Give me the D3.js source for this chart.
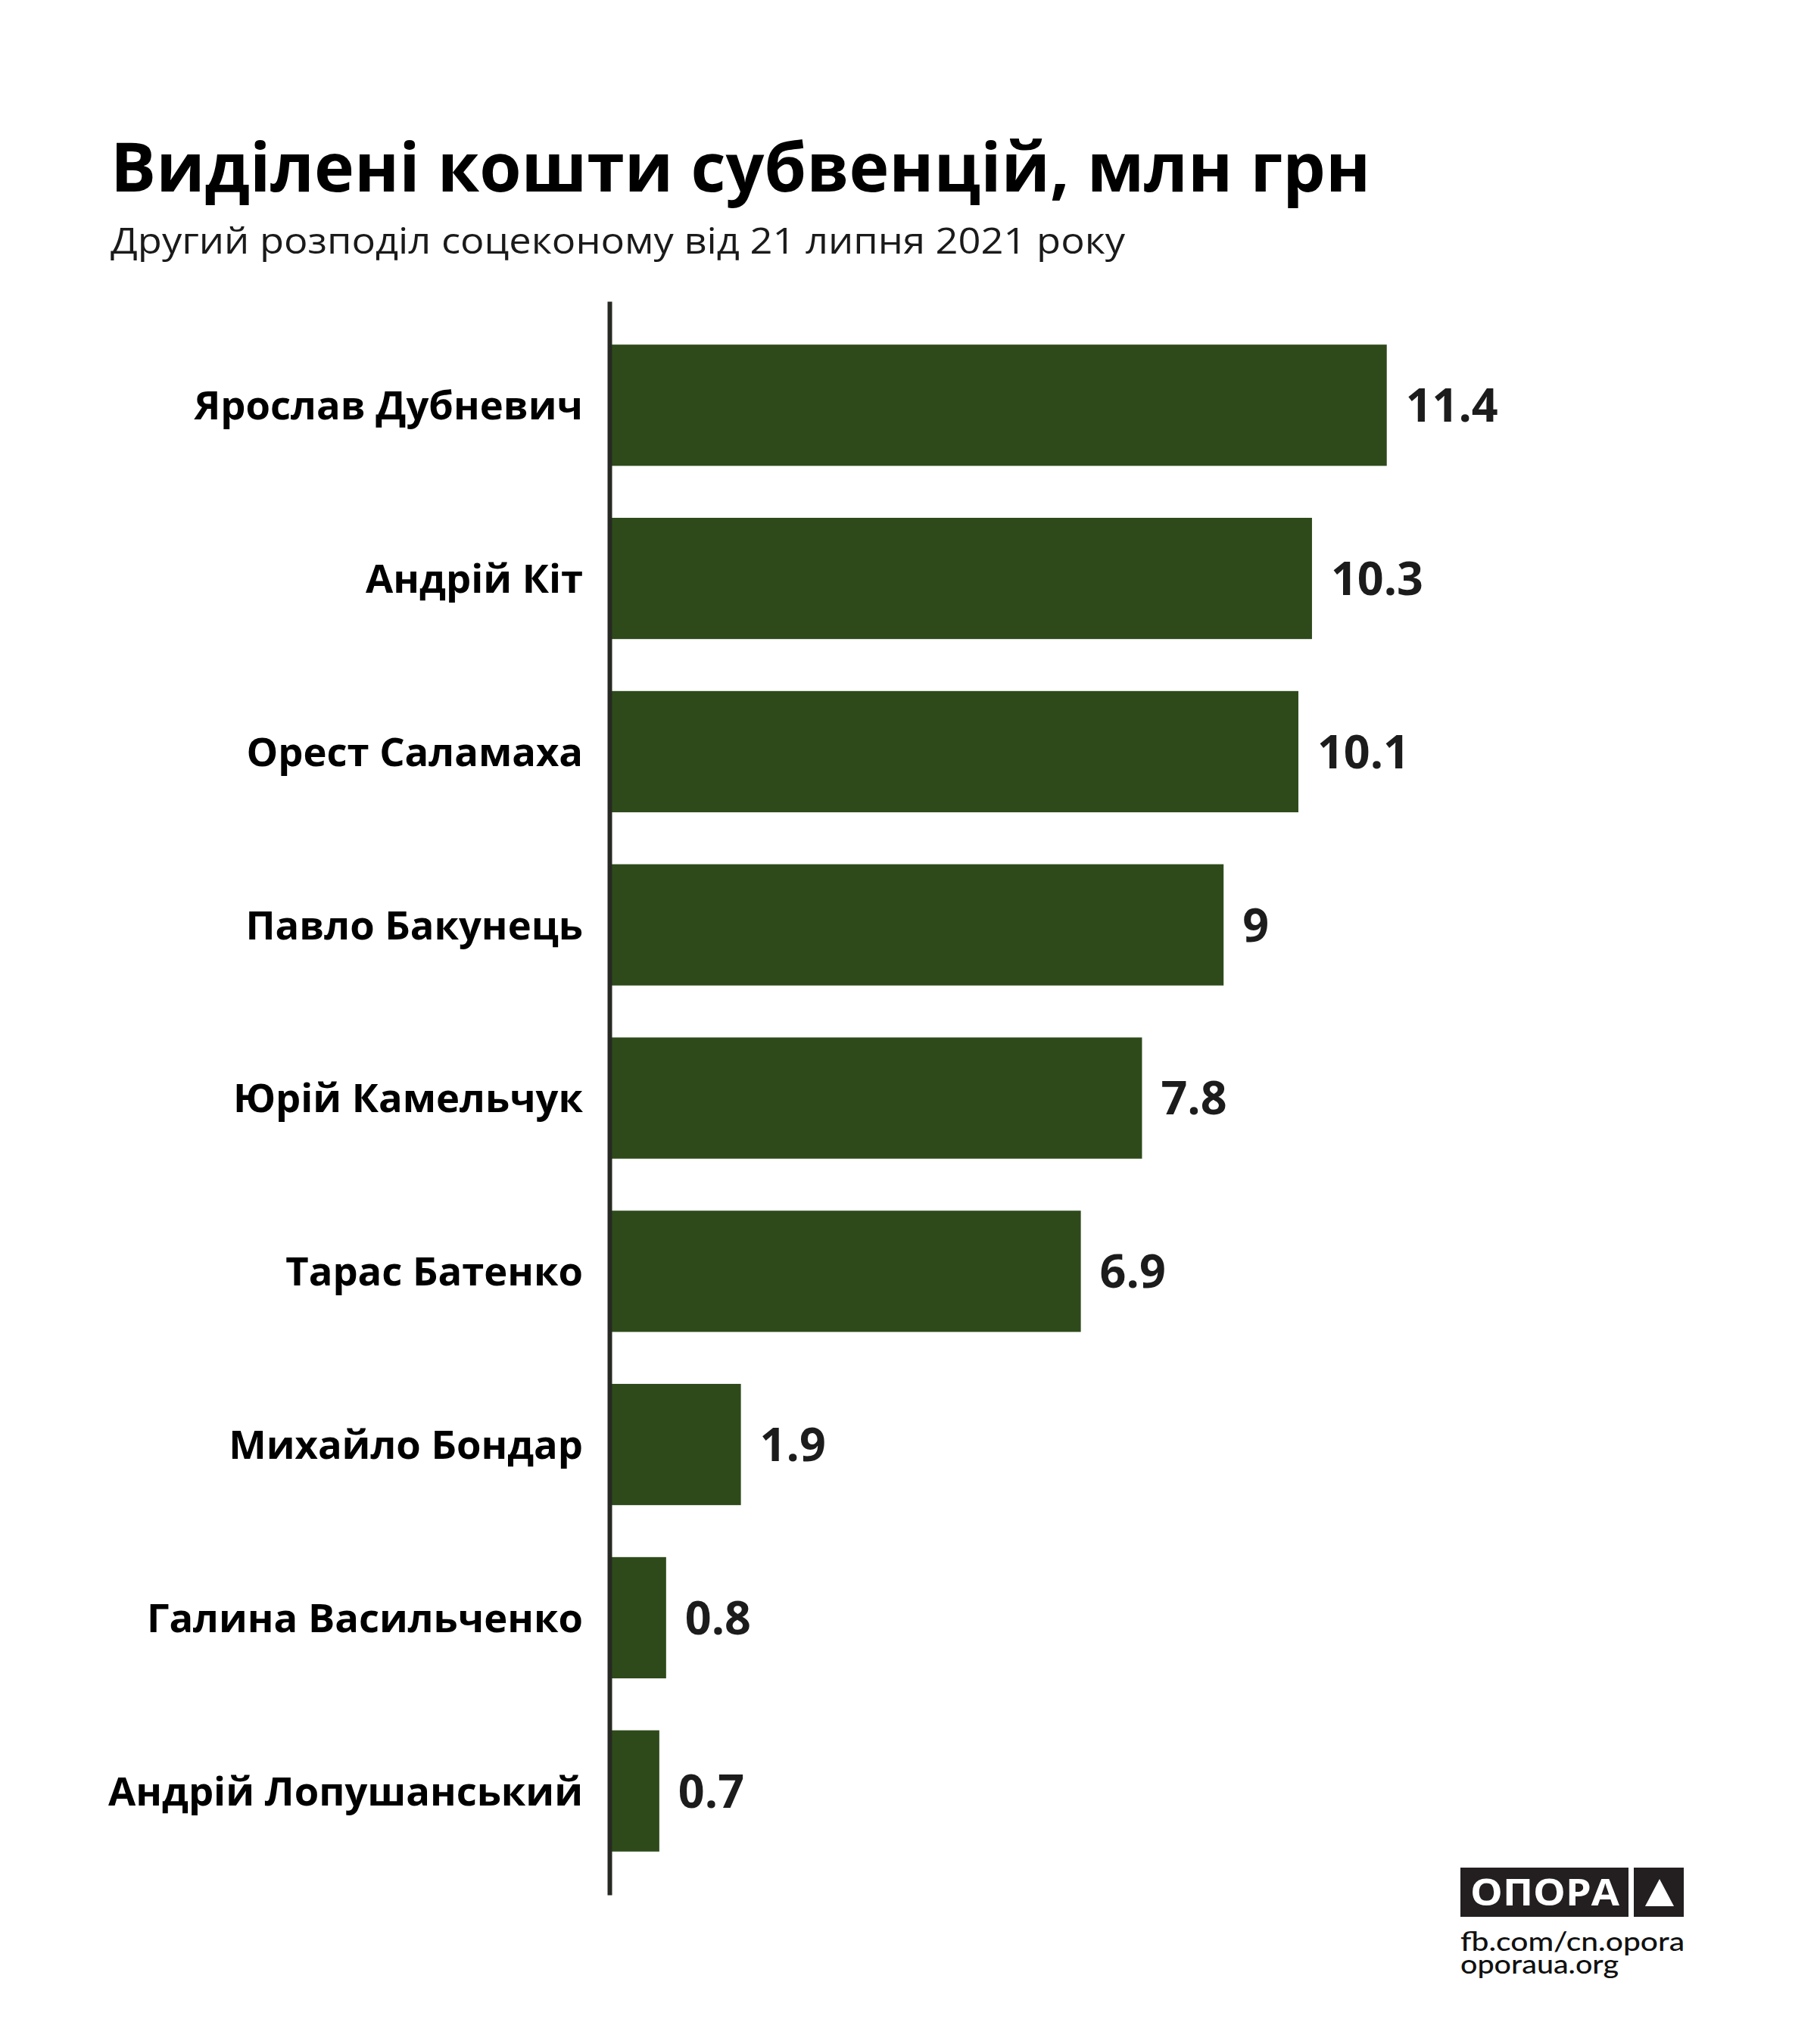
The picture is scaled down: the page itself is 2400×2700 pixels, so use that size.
<!DOCTYPE html>
<html>
<head>
<meta charset="utf-8">
<script src="https://cdn.jsdelivr.net/npm/d3@7"></script>
<style>
  body { margin: 0; background: #fff; }
  svg { display: block; }
</style>
</head>
<body>
<div id="chart"></div>
<script>
var names = ["Ярослав Дубневич", "Андрій Кіт", "Орест Саламаха", "Павло Бакунець",
    "Юрій Камельчук", "Тарас Батенко", "Михайло Бондар", "Галина Васильченко",
    "Андрій Лопушанський"];
var amounts = [11.4, 10.3, 10.1, 9, 7.8, 6.9, 1.9, 0.8, 0.7];
var amountLabels = ["11.4", "10.3", "10.1", "9", "7.8", "6.9", "1.9", "0.8", "0.7"];

var width = 2400, height = 2700;
var barColor = "#2e4a1b";

var svg = d3.select("#chart")
    .append("svg")
    .attr("width", width)
    .attr("height", height)
    .style("font-family", "'Open Sans', sans-serif");

svg.append("text")
    .attr("x", 146)
    .attr("y", 253)
    .attr("fill", "#000")
    .attr("font-weight", 700)
    .style("font-size", "89.5px")
    .text("Виділені кошти субвенцій, млн грн");

svg.append("text")
    .attr("x", 146)
    .attr("y", 335)
    .attr("fill", "#1a1a1a")
    .attr("textLength", 1340)
    .attr("lengthAdjust", "spacingAndGlyphs")
    .style("font-size", "48px")
    .text("Другий розподіл соцеконому від 21 липня 2021 року");

var x = d3.scaleLinear()
    .domain([0, 12])
    .range([808, 808 + 12 * 89.8]);

var y = d3.scaleBand()
    .domain(names)
    .range([398, 2503])
    .paddingInner(0.3)
    .paddingOuter(0.25);

var rows = names.map(function (n, i) {
    return { name: n, value: amounts[i], label: amountLabels[i] };
});

svg.selectAll("rect.bar")
    .data(rows)
    .enter()
    .append("rect")
    .attr("class", "bar")
    .attr("x", x(0))
    .attr("y", function (d) { return y(d.name); })
    .attr("width", function (d) { return x(d.value) - x(0); })
    .attr("height", y.bandwidth())
    .attr("fill", barColor);

svg.selectAll("text.value")
    .data(rows)
    .enter()
    .append("text")
    .attr("class", "value")
    .attr("x", function (d) { return x(d.value) + 25; })
    .attr("y", function (d) { return y(d.name) + y.bandwidth() / 2; })
    .attr("dy", "0.36em")
    .attr("fill", "#1c1c1c")
    .attr("font-weight", 700)
    .style("font-size", "61px")
    .text(function (d) { return d.label; });

// axis with names as tick labels
var axis = svg.append("g")
    .attr("transform", "translate(805,0)")
    .call(d3.axisLeft(y).tickSize(0).tickPadding(35));

axis.select(".domain")
    .attr("stroke", "#262a22")
    .attr("stroke-width", 6);

axis.selectAll(".tick text")
    .attr("fill", "#000")
    .attr("font-weight", 700)
    .attr("dy", "0.36em")
    .style("font-family", "'Open Sans', sans-serif")
    .style("font-size", "52.5px");

// logo
var logo = svg.append("g");
logo.append("rect")
    .attr("x", 1929).attr("y", 2467)
    .attr("width", 222).attr("height", 65)
    .attr("fill", "#231f20");
logo.append("rect")
    .attr("x", 2158).attr("y", 2467)
    .attr("width", 66).attr("height", 65)
    .attr("fill", "#231f20");
logo.append("text")
    .attr("x", 1942).attr("y", 2517)
    .attr("fill", "#fff")
    .attr("font-weight", 700)
    .attr("textLength", 197)
    .attr("lengthAdjust", "spacingAndGlyphs")
    .style("font-size", "49px")
    .text("ОПОРА");
logo.append("path")
    .attr("d", "M2192,2482 L2211,2518 L2173,2518 Z")
    .attr("fill", "#fff");

var links = logo.append("text")
    .attr("fill", "#111")
    .attr("font-weight", 500)
    .style("font-family", "Lato, sans-serif")
    .style("font-size", "34px");
links.append("tspan")
    .attr("x", 1929).attr("y", 2577)
    .attr("textLength", 296)
    .attr("lengthAdjust", "spacingAndGlyphs")
    .text("fb.com/cn.opora");
links.append("tspan")
    .attr("x", 1929).attr("y", 2607)
    .attr("textLength", 209)
    .attr("lengthAdjust", "spacingAndGlyphs")
    .text("oporaua.org");
</script>
</body>
</html>
